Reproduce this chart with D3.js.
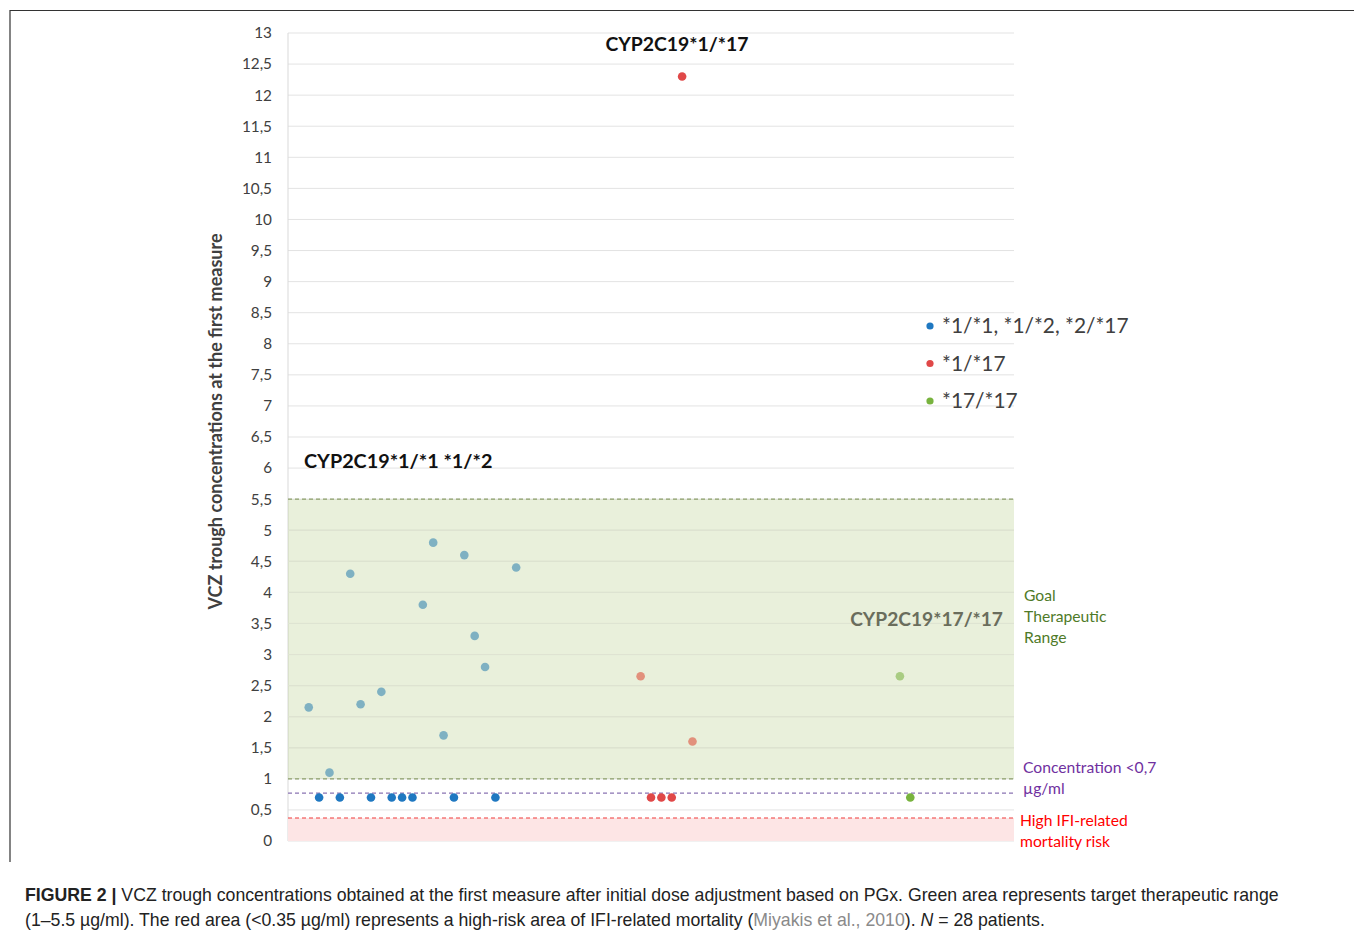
<!DOCTYPE html>
<html lang="en">
<head>
<meta charset="UTF-8">
<title>VCZ trough concentrations</title>
<script src="https://d3js.org/d3.v7.min.js"></script>
<style>
  body { margin: 0; background: #fff; }
  svg { display: block; }
  .tick text { font-family: Lato, sans-serif; }
</style>
</head>
<body>
<svg width="1354" height="934"></svg>
<script>
// patient index on the x axis, VCZ trough concentration (ug/ml) on y
const blueX = [2, 3, 4, 5, 6, 7, 8, 9, 10, 11, 12, 13, 14, 15, 16, 17, 18, 19, 20, 22];
const blueY = [2.15, 0.7, 1.1, 0.7, 4.3, 2.2, 0.7, 2.4, 0.7, 0.7, 0.7, 3.8, 4.8, 1.7, 0.7, 4.6, 3.3, 2.8, 0.7, 4.4];
const redX = [34, 35, 36, 37, 38, 39];
const redY = [2.65, 0.7, 0.7, 0.7, 12.3, 1.6];
const greenX = [59, 60];
const greenY = [2.65, 0.7];

const legendLabels = ["*1/*1, *1/*2, *2/*17", "*1/*17", "*17/*17"];
const yTicks = d3.range(0, 13.01, 0.5);

const goalRange = [1, 5.5];
const lowConc = 0.77;
const riskLimit = 0.37;

const svg = d3.select("svg");
const mLeft = 288, mRight = 1014, mTop = 33, mBottom = 841;

const x = d3.scaleLinear().domain([0, 70]).range([mLeft, mRight]);
const y = d3.scaleLinear().domain([0, 13]).range([mBottom, mTop]);

// outer frame
svg.append("path")
  .attr("d", "M10,862 V10.5 H1354")
  .attr("fill", "none").attr("stroke", "#333").attr("stroke-width", 1.2);

// grid
svg.append("g").selectAll("line").data(yTicks).join("line")
  .attr("x1", mLeft).attr("x2", mRight)
  .attr("y1", d => y(d)).attr("y2", d => y(d))
  .attr("stroke", "#e3e3e3").attr("stroke-width", 1);

svg.append("line")
  .attr("x1", mLeft).attr("x2", mLeft).attr("y1", mTop).attr("y2", mBottom)
  .attr("stroke", "#d9d9d9");

// y axis labels
const yAxis = d3.axisLeft(y).tickValues(yTicks).tickSize(0).tickPadding(16)
  .tickFormat(d => String(d).replace(".", ","));
const ga = svg.append("g").attr("transform", `translate(${mLeft},0)`).call(yAxis);
ga.select(".domain").remove();
ga.selectAll("text").attr("font-size", 15.3).attr("fill", "#404040");

svg.append("text")
  .attr("transform", `translate(222,${(234 + 609) / 2}) rotate(-90)`)
  .attr("text-anchor", "middle")
  .attr("font-family", "Lato, sans-serif").attr("font-weight", "bold")
  .attr("font-size", 18).attr("fill", "#404040")
  .text("VCZ trough concentrations at the first measure");

// point colors: full below the goal range, faded inside it
function ptColor(base, faded) {
  return v => (v >= goalRange[0] && v <= goalRange[1]) ? faded : base;
}
const series = [
  { xs: blueX, ys: blueY, color: ptColor("#1f78c1", "#7fb1c2") },
  { xs: redX, ys: redY, color: ptColor("#e04848", "#e2917c") },
  { xs: greenX, ys: greenY, color: ptColor("#78b33e", "#a9cc82") }
];

// pink risk area
svg.append("rect")
  .attr("x", mLeft).attr("width", mRight - mLeft)
  .attr("y", y(riskLimit)).attr("height", y(0) - y(riskLimit))
  .attr("fill", "#fde5e5");

// green goal area
svg.append("rect")
  .attr("x", mLeft).attr("width", mRight - mLeft)
  .attr("y", y(goalRange[1])).attr("height", y(goalRange[0]) - y(goalRange[1]))
  .attr("fill", "#9bbb59").attr("fill-opacity", 0.22);

// gridlines faintly through the green
svg.append("g").selectAll("line").data(yTicks.filter(d => d > goalRange[0] && d < goalRange[1])).join("line")
  .attr("x1", mLeft).attr("x2", mRight)
  .attr("y1", d => y(d)).attr("y2", d => y(d))
  .attr("stroke", "#dfe4d3").attr("stroke-width", 1);

// dashed reference lines
const refs = [
  { v: goalRange[1], c: "#8c9f6a" },
  { v: goalRange[0], c: "#8c9f6a" },
  { v: lowConc, c: "#8a74b3" },
  { v: riskLimit, c: "#f03a3a" }
];
svg.append("g").selectAll("line").data(refs).join("line")
  .attr("x1", mLeft).attr("x2", mRight)
  .attr("y1", d => y(d.v)).attr("y2", d => y(d.v))
  .attr("stroke", d => d.c).attr("stroke-width", 1.2)
  .attr("stroke-dasharray", "4,3");

// points
series.forEach(s => {
  svg.append("g").selectAll("circle").data(s.xs.map((d, i) => [d, s.ys[i]])).join("circle")
    .attr("cx", d => x(d[0])).attr("cy", d => y(d[1]))
    .attr("r", 4.3).attr("fill", d => s.color(d[1]));
});

// annotations
const ann = [
  { t: "CYP2C19*1/*17", x: 677, y: 51, a: "middle", c: "#111", s: 19.4 },
  { t: "CYP2C19*1/*1 *1/*2", x: 304, y: 468, a: "start", c: "#111", s: 19.8 },
  { t: "CYP2C19*17/*17", x: 1003, y: 626, a: "end", c: "#6a6d5c", s: 19.2 }
];
svg.append("g").selectAll("text").data(ann).join("text")
  .attr("x", d => d.x).attr("y", d => d.y).attr("text-anchor", d => d.a)
  .attr("font-family", "Lato, sans-serif").attr("font-weight", "bold")
  .attr("font-size", d => d.s).attr("fill", d => d.c)
  .text(d => d.t);

// legend
const legColors = ["#1f78c1", "#e04848", "#78b33e"];
const leg = svg.append("g").selectAll("g").data(legendLabels).join("g")
  .attr("transform", (d, i) => `translate(930,${326 + i * 37.5})`);
leg.append("circle").attr("r", 3.6).attr("fill", (d, i) => legColors[i]);
leg.append("text").attr("x", 12).attr("dy", "0.35em")
  .attr("font-family", "Lato, sans-serif").attr("font-size", 20.9).attr("fill", "#404040")
  .text(d => d);

// side labels
const side = [
  { lines: ["Goal", "Therapeutic", "Range"], x: 1024, y: 601, c: "#4f7a28" },
  { lines: ["Concentration <0,7", "µg/ml"], x: 1023, y: 773, c: "#7030a0" },
  { lines: ["High IFI-related", "mortality risk"], x: 1020, y: 826, c: "#ff0000" }
];
side.forEach(s => {
  svg.append("g").selectAll("text").data(s.lines).join("text")
    .attr("x", s.x).attr("y", (d, i) => s.y + i * 21)
    .attr("font-family", "Lato, sans-serif").attr("font-size", 15.7).attr("fill", s.c)
    .text(d => d);
});

// caption
const cap = svg.append("g")
  .attr("font-family", "'Liberation Sans Narrow', 'Arial Narrow', sans-serif")
  .attr("font-size", 17.7).attr("fill", "#222");
const l1 = cap.append("text").attr("x", 25).attr("y", 900.5);
l1.append("tspan").attr("font-weight", "bold").text("FIGURE 2 | ");
l1.append("tspan").text("VCZ trough concentrations obtained at the first measure after initial dose adjustment based on PGx. Green area represents target therapeutic range");
const l2 = cap.append("text").attr("x", 25).attr("y", 925.5);
l2.append("tspan").text("(1–5.5 µg/ml). The red area (<0.35 µg/ml) represents a high-risk area of IFI-related mortality (");
l2.append("tspan").attr("fill", "#8a8a8a").text("Miyakis et al., 2010");
l2.append("tspan").text("). ");
l2.append("tspan").attr("font-style", "italic").text("N");
l2.append("tspan").text(" = 28 patients.");
</script>
</body>
</html>
